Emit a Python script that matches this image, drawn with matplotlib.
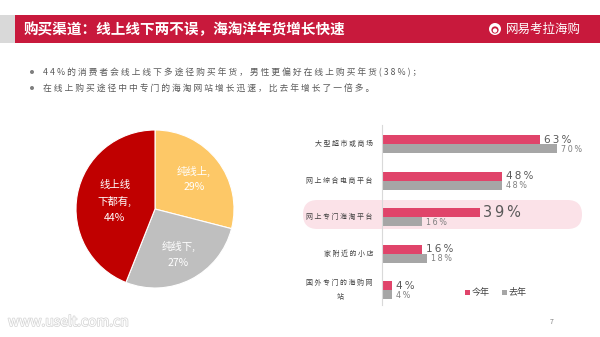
import matplotlib
matplotlib.use("Agg")
import matplotlib.pyplot as plt
from matplotlib.patches import Rectangle, FancyBboxPatch, Circle
import matplotlib.patheffects as pe
import numpy as np

plt.rcParams['font.family'] = ['Noto Sans CJK SC', 'DejaVu Sans']

# ---- data ----
title = "购买渠道：线上线下两不误，海淘洋年货增长快速"
brand = "网易考拉海购"
bullets = [
    "44%的消费者会线上线下多途径购买年货，男性更偏好在线上购买年货(38%)；",
    "在线上购买途径中中专门的海淘网站增长迅速，比去年增长了一倍多。",
]

pie_labels = ["纯线上", "纯线下", "线上线\n下都有"]
pie_values = [29, 27, 44]
pie_colors = ["#FDC867", "#BFBFBF", "#C00000"]

channels = ["大型超市或商场", "网上综合电商平台", "网上专门海淘平台",
            "家附近的小店", "国外专门的海购网\n站"]
this_year = [63, 48, 39, 16, 4]
last_year = [70, 48, 16, 18, 4]
series_names = ["今年", "去年"]
highlight_idx = 2

W, H = 600, 337
fig = plt.figure(figsize=(W / 100, H / 100), dpi=100)
fig.patch.set_facecolor("white")


def spaced(s, sep=" "):
    return sep.join(list(s))


def px_axes(x0, y0, x1, y1):
    """Axes placed by pixel box (top-left origin)."""
    return fig.add_axes([x0 / W, 1 - y1 / H, (x1 - x0) / W, (y1 - y0) / H])


# ---- background layer in pixel coordinates ----
bg = fig.add_axes([0, 0, 1, 1])
bg.set_xlim(0, W)
bg.set_ylim(H, 0)
bg.axis("off")

bg.add_patch(Rectangle((0, 15), 15, 28, color="#D9D9D9", lw=0))
bg.add_patch(Rectangle((15, 15), 585, 28, color="#C8193C", lw=0))
bg.text(24, 29.5, title, color="white", fontsize=10.5, fontweight="bold",
        va="center", ha="left")
bg.add_patch(Circle((495, 29), 6, facecolor="white", edgecolor="none"))
bg.add_patch(Circle((495, 30), 3.6, facecolor="#C8193C", edgecolor="none"))
bg.add_patch(Circle((495, 30.5), 2.2, facecolor="white", edgecolor="none"))
bg.text(506, 29.5, brand, color="white", fontsize=9, va="center", ha="left")

for i, line in enumerate(bullets):
    y = 72 + i * 16
    bg.add_patch(Circle((32, y), 2.0, color="#7F7F7F", lw=0))
    bg.text(43, y, spaced(line), color="#595959", fontsize=6.3,
            va="center", ha="left")

# highlight behind one bar group
bg.add_patch(FancyBboxPatch((303, 200), 279, 29,
                            boxstyle="round,pad=0,rounding_size=14.5",
                            facecolor="#FBE2E8", edgecolor="none"))

bg.text(552, 322, "7", color="#7F7F7F", fontsize=5, ha="center", va="center")
bg.text(8, 322, "www.uselt.com.cn", color="white", fontsize=10,
        ha="left", va="center", style="italic",
        path_effects=[pe.withStroke(linewidth=1.1, foreground="#D6D6D6")])

# ---- pie ----
pax = px_axes(76, 130, 234, 288)
wedges, _ = pax.pie(pie_values, colors=pie_colors, startangle=90,
                    counterclock=False, radius=1,
                    wedgeprops=dict(edgecolor="white", linewidth=0.8))
pax.set_xlim(-1, 1)
pax.set_ylim(-1, 1)
pax.set_aspect("equal")
label_dist = [0.62, 0.65, 0.52]
for w, name, val, d in zip(wedges, pie_labels, pie_values, label_dist):
    ang = np.deg2rad((w.theta1 + w.theta2) / 2)
    pax.text(d * np.cos(ang), d * np.sin(ang), f"{name},\n{val}%",
             color="white", fontsize=7.5, ha="center", va="center",
             linespacing=1.7)

# ---- horizontal bars ----
bax = px_axes(382, 125, 582, 305)
bax.patch.set_alpha(0)
pitch = 36.5
bh = 9 / pitch
y = np.arange(len(channels))
r1 = bax.barh(y - bh / 2, this_year, height=bh, color="#E0446A", lw=0)
r2 = bax.barh(y + bh / 2, last_year, height=bh, color="#A6A6A6", lw=0)
bax.set_xlim(0, 80)
bax.set_ylim(4 + 15 / pitch, -19 / pitch)
for s in ["top", "right", "bottom"]:
    bax.spines[s].set_visible(False)
bax.spines["left"].set_color("#D9D9D9")
bax.spines["left"].set_linewidth(0.8)
bax.set_xticks([])
bax.set_yticks([])

for i, (a, b) in enumerate(zip(this_year, last_year)):
    big = i == highlight_idx
    bax.text(a + (1.4 if big else 1.6), i - bh / 2, spaced(f"{a}%", "\u2009"),
             fontsize=10.5 if big else 7.5, color="#595959",
             ha="left", va="center", family="DejaVu Sans")
    bax.text(b + 1.6, i + bh / 2 + 0.02, spaced(f"{b}%", "\u2009"),
             fontsize=5.8, color="#7F7F7F", ha="left", va="center",
             family="DejaVu Sans")
    lab = "\n".join(spaced(part) for part in channels[i].split("\n"))
    bax.text(-3.6, i, lab, fontsize=5, color="#404040", ha="right",
             va="center", multialignment="center", linespacing=1.9)

leg = bax.legend([r1, r2], series_names, loc="center", ncol=2, frameon=False,
                 fontsize=6.5, handlelength=0.5, handleheight=0.5,
                 handletextpad=0.2, columnspacing=1.4, labelcolor="#404040")
leg.set_bbox_to_anchor((496 / W, 1 - 293 / H), transform=fig.transFigure)

fig.savefig("out.png", dpi=100)
